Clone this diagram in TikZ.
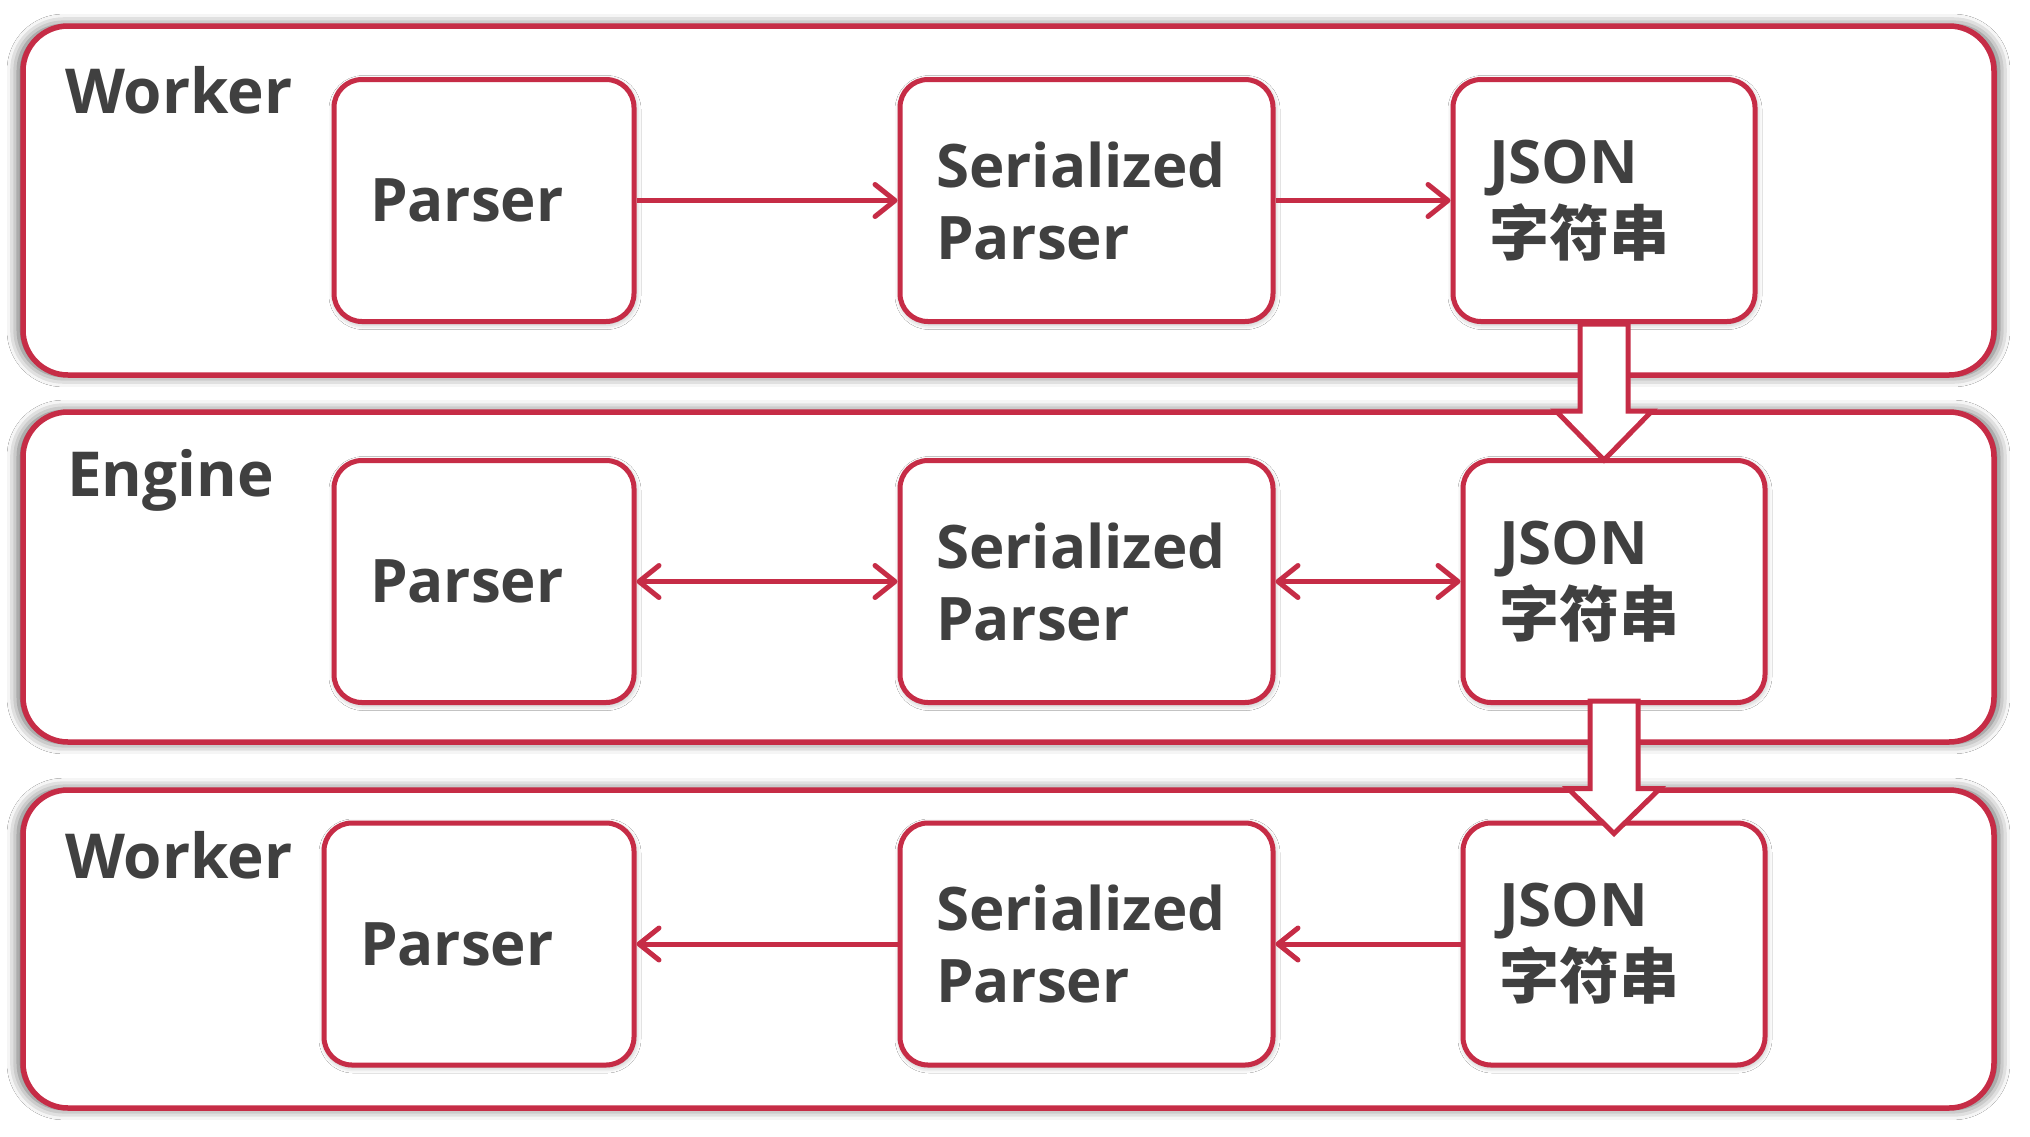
\documentclass[tikz,border=0pt]{standalone}
\usepackage{fontspec}
\setmainfont{Open Sans}
\newfontfamily\cjk{Noto Sans CJK SC}
\usetikzlibrary{arrows.meta,calc,shadows.blur}
\definecolor{bred}{RGB}{198,44,70}
\definecolor{tgray}{RGB}{64,64,64}
\tikzset{rbarb/.tip={Straight Barb[length=20pt,width=32pt,round]}}
\begin{document}
\begin{tikzpicture}[x=1pt,y=-1pt,
  panel/.style={draw=bred, line width=5.5pt, rounded corners=45pt, fill=white,
    rectangle, inner sep=0pt, minimum width=1971pt,
    blur shadow={shadow xshift=0pt, shadow yshift=0pt, shadow blur radius=11pt,
      shadow opacity=65, shadow scale=1.005}},
  box/.style={draw=bred, line width=5pt, rounded corners=28pt, fill=white,
    rectangle, minimum height=242pt, inner xsep=36pt, inner ysep=0pt,
    align=left, text=tgray, font=\fontsize{60}{72}\selectfont\bfseries,
    blur shadow={shadow xshift=1pt, shadow yshift=-2pt, shadow blur radius=6pt,
      shadow opacity=35}},
  lab/.style={anchor=base west, text=tgray, inner sep=0pt,
    font=\fontsize{62}{72}\selectfont\bfseries},
  conn/.style={draw=bred, line width=5pt},
  blockarrow/.style={draw=bred, line width=5pt, fill=white, line join=miter}
]
\useasboundingbox (0,0) rectangle (2030,1136);
\fill[white] (0,0) rectangle (2030,1136);

% panels
\node[panel, minimum height=349pt] (w1) at (1008.5,200.5) {};
\node[panel, minimum height=330pt] (en) at (1008.5,577) {};
\node[panel, minimum height=318pt] (w2) at (1008.5,949) {};

\node[lab] (l1) at (65,113) {Worker};
\node[lab] (l2) at (67,496) {Engine};
\node[lab] (l3) at (65,878) {Worker};

% row 1
\node[box, text width=228pt, minimum width=300pt] (p1) at (484,200.5) {Parser};
\node[box, text width=301pt, minimum width=373pt] (s1) at (1086.5,200.5) {Serialized\\Parser};
\node[box, text width=230pt, minimum width=302pt] (j1) at (1604,200.5) {JSON\\{\cjk 字符串}};

% row 2
\node[box, text width=228pt, minimum width=300pt] (p2) at (484,581.5) {Parser};
\node[box, text width=301pt, minimum width=373pt] (s2) at (1086.5,581.5) {Serialized\\Parser};
\node[box, text width=230pt, minimum width=302pt] (j2) at (1614,581.5) {JSON\\{\cjk 字符串}};

% row 3
\node[box, text width=238pt, minimum width=310pt] (p3) at (479,944) {Parser};
\node[box, text width=301pt, minimum width=373pt] (s3) at (1086.5,944) {Serialized\\Parser};
\node[box, text width=230pt, minimum width=302pt] (j3) at (1614,944) {JSON\\{\cjk 字符串}};

% horizontal connectors
\draw[conn, -rbarb] (p1.east) -- (s1.west);
\draw[conn, -rbarb] (s1.east) -- (j1.west);
\draw[conn, rbarb-rbarb] (p2.east) -- (s2.west);
\draw[conn, rbarb-rbarb] (s2.east) -- (j2.west);
\draw[conn, -rbarb] (s3.west) -- (p3.east);
\draw[conn, -rbarb] (j3.west) -- (s3.east);

% block arrows
\draw[blockarrow]
  ($(j1.south)+(-24,0)$) -- ($(j1.south)+(24,0)$)
  -- ($(j1.south |- j2.north)+(24,-47)$) -- ($(j1.south |- j2.north)+(48,-47)$)
  -- ($(j1.south |- j2.north)+(0,2)$)
  -- ($(j1.south |- j2.north)+(-48,-47)$) -- ($(j1.south |- j2.north)+(-24,-47)$)
  -- cycle;
\draw[blockarrow]
  ($(j2.south)+(-24,-4)$) -- ($(j2.south)+(24,-4)$)
  -- ($(j2.south |- j3.north)+(24,-32)$) -- ($(j2.south |- j3.north)+(46,-32)$)
  -- ($(j2.south |- j3.north)+(0,13)$)
  -- ($(j2.south |- j3.north)+(-46,-32)$) -- ($(j2.south |- j3.north)+(-24,-32)$)
  -- cycle;
\end{tikzpicture}
\end{document}
